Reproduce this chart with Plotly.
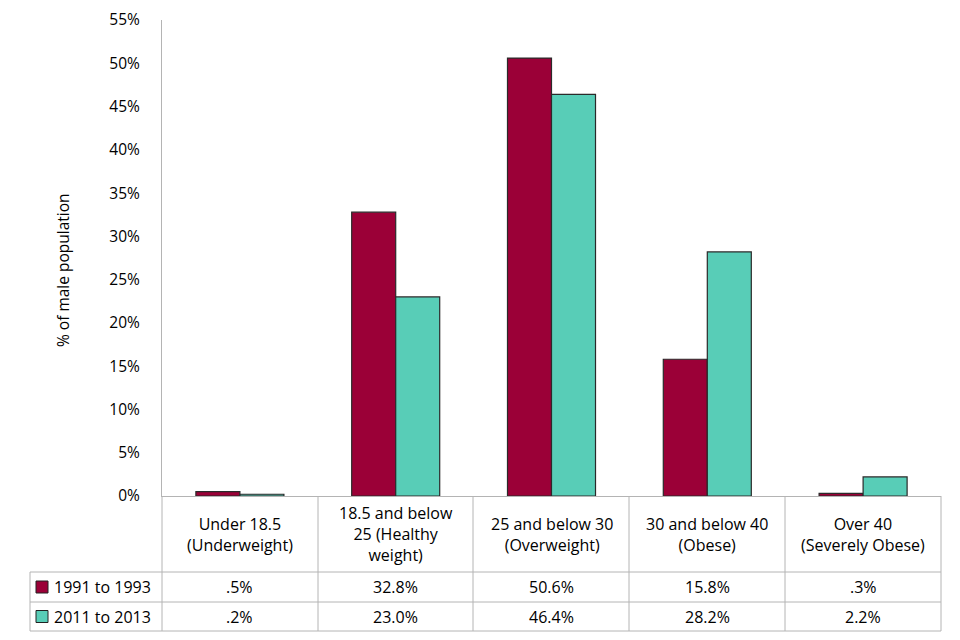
import plotly.graph_objects as go

categories = ["Under 18.5<br>(Underweight)", "18.5 and below<br>25 (Healthy<br>weight)",
              "25 and below 30<br>(Overweight)", "30 and below 40<br>(Obese)",
              "Over 40<br>(Severely Obese)"]
series_names = ["1991 to 1993", "2011 to 2013"]
values_1991 = [0.5, 32.8, 50.6, 15.8, 0.3]
values_2011 = [0.2, 23.0, 46.4, 28.2, 2.2]
labels_1991 = [".5%", "32.8%", "50.6%", "15.8%", ".3%"]
labels_2011 = [".2%", "23.0%", "46.4%", "28.2%", "2.2%"]
tick_vals = [0, 5, 10, 15, 20, 25, 30, 35, 40, 45, 50, 55]
tick_text = [f"{v}%" for v in tick_vals]

colors = ["#9B0037", "#58CDB7"]
FONT = "Open Sans"
FS = 16
OFF = 8  # page offset
W, H = 960, 640
L, T = 162 - OFF, 20 - OFF
R = W - (941 - OFF)
B = H - (496 - OFF)
PW, PH = W - L - R, H - T - B

def px(x):
    return (x - OFF - L) / PW

def py(y):
    return (H - B - (y - OFF)) / PH

xs = list(range(len(categories)))
fig = go.Figure()
for name, vals, c in zip(series_names, [values_1991, values_2011], colors):
    fig.add_trace(go.Bar(x=xs, y=vals, name=name, marker=dict(color=c, line=dict(color="#2a2a2a", width=1.2)),
                         showlegend=False))

grid = "#b4b4b4"
shapes = []
for yy in [572, 602, 631]:
    shapes.append(dict(type="line", xref="paper", yref="paper", x0=px(30), x1=px(941), y0=py(yy), y1=py(yy),
                       line=dict(color=grid, width=1)))
bounds = [162, 318, 473, 629, 785, 941]
for xx in bounds:
    shapes.append(dict(type="line", xref="paper", yref="paper", x0=px(xx), x1=px(xx), y0=py(496), y1=py(631),
                       line=dict(color=grid, width=1)))
shapes.append(dict(type="line", xref="paper", yref="paper", x0=px(30), x1=px(30), y0=py(572), y1=py(631),
                   line=dict(color=grid, width=1)))
for i, c in enumerate(colors):
    yc = 587 + i * 29.5
    shapes.append(dict(type="rect", xref="paper", yref="paper", x0=px(36), x1=px(48), y0=py(yc - 6), y1=py(yc + 6),
                       fillcolor=c, line=dict(color="#222222", width=1)))

tf = dict(family=FONT, size=FS, color="#000")
annotations = []
for i, cat in enumerate(categories):
    annotations.append(dict(x=i, xref="x", y=py(534), yref="paper", text=cat, showarrow=False,
                            font=tf, align="center", yanchor="middle"))
    annotations.append(dict(x=i, xref="x", y=py(587), yref="paper", text=labels_1991[i], showarrow=False,
                            font=tf, yanchor="middle"))
    annotations.append(dict(x=i, xref="x", y=py(616.5), yref="paper", text=labels_2011[i], showarrow=False,
                            font=tf, yanchor="middle"))
for i, name in enumerate(series_names):
    annotations.append(dict(x=px(52), xref="paper", y=py(587 + i * 29.5), yref="paper", text=name, showarrow=False,
                            xanchor="left", yanchor="middle", font=tf))
annotations.append(dict(x=px(63), xref="paper", y=py(270), yref="paper", text="% of male population",
                        textangle=-90, showarrow=False, xanchor="center", yanchor="middle",
                        font=dict(family=FONT, size=15.5, color="#000")))

fig.update_layout(
    width=W, height=H, margin=dict(l=L, r=R, t=T, b=B, autoexpand=False),
    paper_bgcolor="white", plot_bgcolor="white",
    bargap=0.435, bargroupgap=0, barmode="group",
    font=tf,
    xaxis=dict(range=[-0.5, 4.5], showticklabels=False, showgrid=False, zeroline=False,
               showline=True, linecolor=grid, linewidth=1, ticks=""),
    yaxis=dict(range=[0, 55], tickvals=tick_vals, ticktext=tick_text, showgrid=False, zeroline=False,
               showline=True, linecolor=grid, linewidth=1, ticks="", ticklabelstandoff=18,
               tickfont=dict(family=FONT, size=15.5, color="#000")),
    shapes=shapes, annotations=annotations,
)
fig.write_html("out.html")
